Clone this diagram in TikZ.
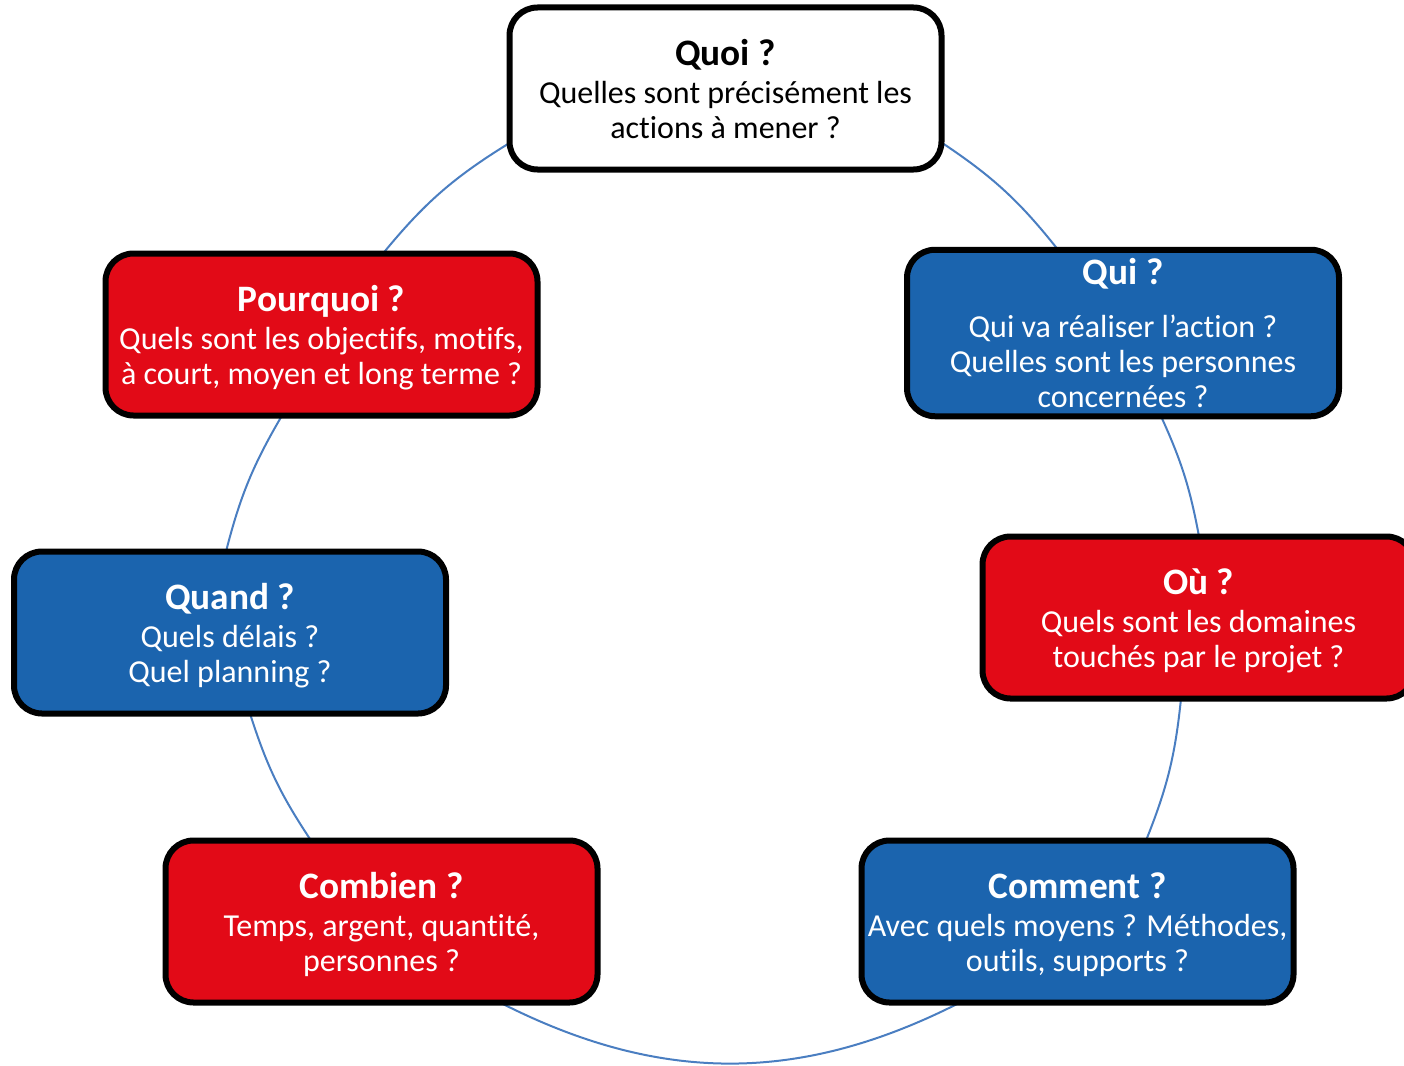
\documentclass[tikz,border=0pt]{standalone}
\usepackage{fontspec}
\setmainfont{Carlito}[Ligatures={NoCommon,NoContextual}]
\usetikzlibrary{backgrounds}
\definecolor{qred}{RGB}{226,10,23}
\definecolor{qblue}{RGB}{27,100,174}
\definecolor{qline}{RGB}{74,126,193}
\newcommand\ttl[1]{{\fontsize{37.33}{35.1}\selectfont\bfseries\rule{0pt}{35.2pt}#1}}
\newcommand\lastd{\rule[-9pt]{0pt}{9pt}}
\begin{document}
\begin{tikzpicture}[x=1pt,y=1pt,
  box/.style={rounded corners=28pt, line width=6pt, draw=black,
    minimum width=432pt, minimum height=162pt, outer sep=0pt, inner sep=0pt,
    align=center, font=\fontsize{32}{35.1}\selectfont},
  redbox/.style={box, fill=qred, text=white},
  bluebox/.style={box, fill=qblue, text=white},
  whitebox/.style={box, fill=white, text=black},
  link/.style={draw=qline, line width=2pt}]
\useasboundingbox (0,0) rectangle (1404,-1065);
\begin{scope}
\clip (0,0) rectangle (1404,-1065);
\node[whitebox] (quoi) at (725.5,-88.5) {\ttl{Quoi ?}\\[3pt] Quelles sont précisément les\\ actions à mener ?\lastd};
\node[bluebox] (qui) at (1123,-333) {\ttl{Qui ?}\\[17pt] Qui va réaliser l’action ?\\ Quelles sont les personnes\\ concernées ?\lastd};
\node[redbox] (ou) at (1198.5,-617.5) {\ttl{Où ?}\\[3pt] Quels sont les domaines\\ touchés par le projet ?\lastd};
\node[bluebox] (comment) at (1077.5,-921.5) {\ttl{Comment ?}\\[3pt] Avec quels moyens ? Méthodes,\\ outils, supports ?\lastd};
\node[redbox] (combien) at (381.5,-921.5) {\ttl{Combien ?}\\[3pt] Temps, argent, quantité,\\ personnes ?\lastd};
\node[bluebox] (quand) at (230,-632.5) {\ttl{Quand ?}\\[3pt] Quels délais ?\\ Quel planning ?\lastd};
\node[redbox] (pourquoi) at (321.5,-334.5) {\ttl{Pourquoi ?}\\[3pt] Quels sont les objectifs, motifs,\\ à court, moyen et long terme ?\lastd};
\end{scope}
\begin{scope}[on background layer]
\clip (0,0) rectangle (1404,-1065);
\draw[link] ([yshift=27pt]quoi.south east) to[bend left=9] ([xshift=151pt]qui.north west);
\draw[link] ([xshift=254pt]qui.south west) to[bend left=7] ([xshift=216.5pt]ou.north west);
\draw[link] ([xshift=198.5pt]ou.south west) to[bend left=8] ([xshift=284.5pt]comment.north west);
\draw[link] ([xshift=98.5pt]comment.south west) to[bend left=27] ([xshift=-97.5pt]combien.south east);
\draw[link] ([xshift=145.5pt]combien.north west) to[bend left=8] ([xshift=236pt]quand.south west);
\draw[link] ([xshift=212pt]quand.north west) to[bend left=8] ([xshift=176.5pt]pourquoi.south west);
\draw[link] ([xshift=277.5pt]pourquoi.north west) to[bend left=9.5] ([yshift=26.5pt]quoi.south west);
\end{scope}
\end{tikzpicture}
\end{document}
